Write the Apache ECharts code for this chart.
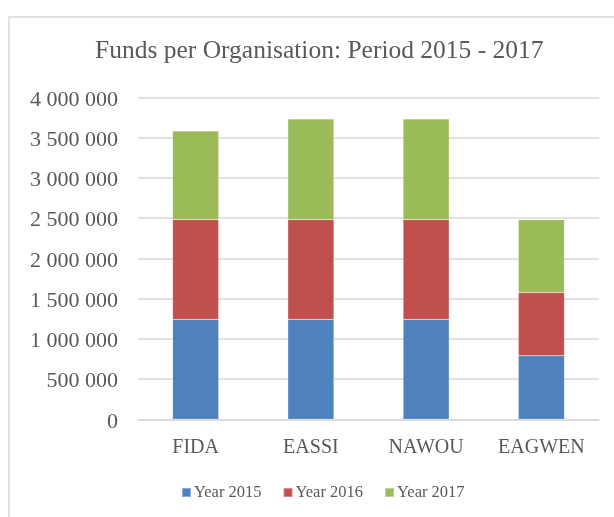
<!DOCTYPE html>
<html>
<head>
<meta charset="utf-8">
<script src="https://cdn.jsdelivr.net/npm/echarts@6/dist/echarts.min.js"></script>
<style>
html,body{margin:0;padding:0;background:#fff;}
#c{width:614px;height:517px;}
</style>
</head>
<body>
<div id="c"></div>
<script>
var categories = ['FIDA', 'EASSI', 'NAWOU', 'EAGWEN'];
var year2015 = [1240000, 1240000, 1240000, 790000];
var year2016 = [1240000, 1240000, 1240000, 785000];
var year2017 = [1100000, 1250000, 1250000, 905000];
var seriesNames = ['Year 2015', 'Year 2016', 'Year 2017'];
var colors = ['#4f81bd', '#c0504d', '#9bbb59'];

var FONT = '"Liberation Serif", "DejaVu Serif", serif';
var TXT = '#595959';

function fmt(v) {
  return '{a|' + String(v).replace(/\B(?=(\d{3})+(?!\d))/g, ' ') + '}';
}

var chart = echarts.init(document.getElementById('c'), null, {renderer: 'canvas'});
var data = [year2015, year2016, year2017];
chart.setOption({
  animation: false,
  color: colors,
  graphic: [{
    type: 'rect',
    shape: {x: 9, y: 17, width: 800, height: 700},
    style: {fill: 'none', stroke: '#d9d9d9', lineWidth: 1.6},
    silent: true
  }],
  title: {
    text: 'Funds per Organisation: Period 2015 - 2017',
    left: 95,
    top: 38,
    padding: 0,
    textStyle: {fontFamily: FONT, fontSize: 25.5, fontWeight: 'normal', color: TXT}
  },
  legend: {
    data: seriesNames,
    left: 181,
    top: 484,
    padding: 0,
    itemWidth: 9,
    itemHeight: 9,
    itemGap: 21,
    icon: 'rect',
    textStyle: {fontFamily: FONT, fontSize: 16.5, color: TXT, padding: [0, 0, 0, -2]}
  },
  grid: {left: 138, right: 15, top: 97.3, bottom: 97.7, containLabel: false},
  xAxis: {
    type: 'category',
    data: categories,
    axisLine: {lineStyle: {color: '#d9d9d9', width: 1.5}},
    axisTick: {show: false},
    axisLabel: {fontFamily: FONT, fontSize: 20, color: TXT, margin: 18}
  },
  yAxis: {
    type: 'value',
    min: 0,
    max: 4000000,
    interval: 500000,
    axisLine: {show: false},
    axisTick: {show: false},
    splitLine: {lineStyle: {color: '#d9d9d9', width: 1.5}},
    axisLabel: {
      color: TXT, margin: 20, formatter: fmt,
      rich: {a: {fontFamily: FONT, fontSize: 22, color: TXT, padding: [5, 0, 0, 0]}}
    }
  },
  series: seriesNames.map(function (n, i) {
    return {
      name: n,
      type: 'bar',
      stack: 'total',
      barWidth: '40%',
      data: data[i],
      itemStyle: {borderColor: 'rgba(255,255,255,0.35)', borderWidth: 0.5}
    };
  })
});
</script>
</body>
</html>
